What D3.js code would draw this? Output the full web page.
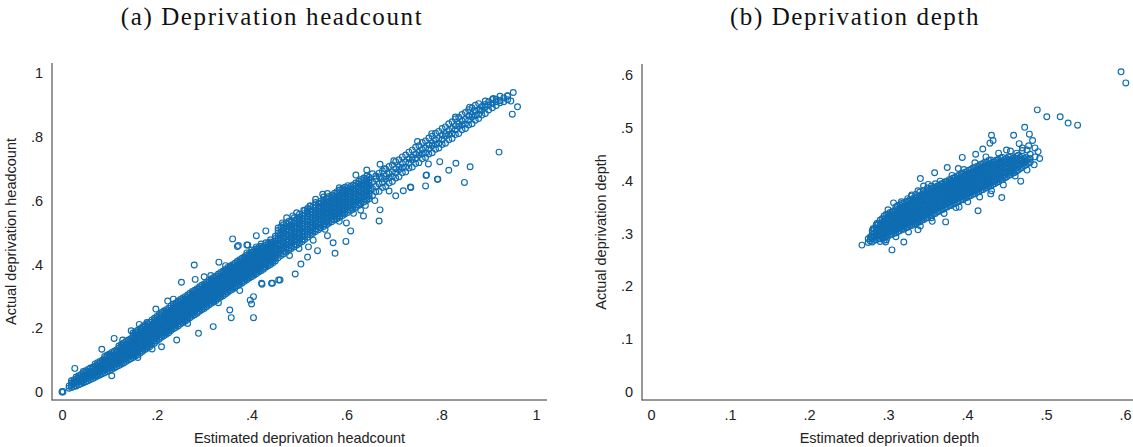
<!DOCTYPE html>
<html>
<head>
<meta charset="utf-8">
<script src="https://cdn.jsdelivr.net/npm/d3@7"></script>
<style>
    body { margin: 0; background: #fff; }
    svg { display: block; }
</style>
</head>
<body>
<div id="chart"></div>
<script>
// Panel (a): columns of points, in thousandths: [estimated, actual, actual, ...]
var headCols = [
    [15, 12, 19], [20, 14, 22, 28, 35], [25, 17, 24, 31, 38], [30, 19, 27, 34, 41, 47],
    [35, 23, 31, 37, 44, 51], [40, 26, 33, 41, 48, 55], [45, 29, 37, 44, 52, 58, 64],
    [50, 32, 40, 46, 53, 61, 67], [55, 35, 43, 50, 57, 64, 71], [60, 39, 46, 54, 60, 67, 75],
    [65, 42, 50, 57, 64, 72, 78], [70, 46, 53, 60, 68, 74, 81, 88], [75, 50, 56, 64, 71, 79, 85, 92],
    [80, 53, 61, 68, 75, 82, 90, 96], [85, 57, 64, 72, 79, 86, 93, 100], [90, 60, 68, 75, 82, 90, 97, 104, 111],
    [95, 64, 71, 79, 86, 93, 100, 108, 115], [100, 67, 75, 82, 89, 97, 105, 112, 119],
    [105, 71, 78, 86, 94, 101, 109, 116, 124], [110, 75, 83, 90, 98, 106, 113, 121, 128],
    [115, 79, 87, 94, 102, 109, 117, 125, 132], [120, 83, 90, 98, 106, 114, 121, 129, 137, 144],
    [125, 87, 95, 103, 110, 118, 126, 133, 141, 149], [130, 91, 99, 107, 115, 122, 130, 138, 146, 154],
    [135, 96, 104, 111, 119, 127, 135, 143, 150, 158], [140, 100, 108, 116, 124, 131, 139, 147, 155, 163],
    [145, 104, 112, 120, 128, 136, 143, 151, 159, 167],
    [150, 108, 115, 122, 129, 136, 143, 150, 157, 164, 171, 178, 185],
    [155, 113, 120, 127, 134, 141, 148, 155, 162, 169, 176, 183, 189],
    [160, 117, 124, 131, 138, 145, 152, 159, 166, 173, 180, 187, 194],
    [165, 122, 129, 136, 143, 150, 157, 164, 171, 178, 185, 192, 198],
    [170, 128, 135, 142, 149, 156, 163, 170, 177, 184, 191, 198, 205],
    [175, 133, 140, 147, 154, 161, 168, 175, 182, 189, 196, 203, 209],
    [180, 137, 144, 151, 158, 165, 172, 179, 186, 193, 200, 207, 214],
    [185, 142, 149, 156, 163, 170, 177, 184, 191, 198, 205, 212, 219],
    [190, 149, 156, 163, 170, 177, 184, 191, 198, 205, 212, 219, 226],
    [195, 153, 161, 168, 175, 182, 189, 196, 203, 210, 217, 224, 231],
    [200, 160, 167, 174, 181, 188, 195, 202, 209, 216, 223, 230, 237],
    [205, 165, 172, 179, 186, 193, 200, 207, 214, 221, 228, 235, 243],
    [210, 172, 179, 186, 193, 200, 207, 214, 221, 228, 235, 242, 249],
    [215, 176, 184, 191, 198, 205, 212, 219, 226, 233, 240, 247, 254],
    [220, 181, 188, 195, 202, 209, 216, 223, 230, 237, 244, 251, 258],
    [225, 186, 193, 200, 207, 214, 221, 228, 235, 242, 249, 256, 263],
    [230, 193, 200, 207, 214, 221, 228, 235, 242, 249, 256, 263, 270],
    [235, 198, 205, 212, 219, 226, 233, 240, 247, 254, 261, 268, 275],
    [240, 202, 209, 216, 223, 230, 237, 244, 251, 258, 265, 272, 279],
    [245, 207, 214, 221, 228, 235, 242, 249, 256, 263, 270, 277, 285],
    [250, 213, 220, 227, 234, 241, 248, 255, 262, 269, 276, 283, 290],
    [255, 218, 225, 232, 239, 246, 253, 260, 267, 274, 281, 288, 295],
    [260, 222, 229, 236, 243, 250, 257, 264, 271, 278, 285, 292, 299],
    [265, 227, 234, 241, 248, 255, 262, 269, 276, 283, 290, 297, 304],
    [270, 233, 240, 247, 254, 261, 268, 275, 282, 289, 296, 303, 310],
    [275, 238, 245, 252, 259, 266, 273, 280, 287, 294, 301, 308, 315],
    [280, 242, 249, 256, 263, 270, 277, 284, 291, 298, 305, 312, 319],
    [285, 247, 254, 261, 268, 275, 282, 289, 296, 303, 310, 317, 324],
    [290, 253, 260, 267, 274, 281, 288, 295, 302, 309, 316, 323, 330],
    [295, 258, 265, 272, 279, 286, 293, 300, 307, 314, 321, 328, 335],
    [300, 262, 269, 276, 283, 290, 297, 304, 311, 318, 325, 332, 339],
    [305, 267, 274, 281, 288, 295, 302, 309, 316, 323, 330, 337, 344],
    [310, 273, 280, 287, 294, 301, 308, 315, 322, 329, 336, 343, 350],
    [315, 278, 285, 292, 299, 306, 313, 320, 327, 334, 341, 348, 355],
    [320, 282, 289, 296, 303, 310, 317, 324, 331, 338, 345, 352, 359],
    [325, 287, 294, 301, 308, 315, 322, 329, 336, 343, 350, 357, 364],
    [330, 293, 300, 307, 314, 321, 328, 335, 342, 349, 356, 363, 370],
    [335, 298, 305, 312, 319, 326, 333, 340, 347, 354, 361, 368, 375],
    [340, 302, 309, 316, 323, 330, 337, 344, 351, 358, 365, 372, 379],
    [345, 307, 314, 321, 328, 335, 342, 349, 356, 363, 370, 377, 384],
    [350, 313, 320, 327, 334, 341, 348, 355, 362, 369, 376, 383, 390],
    [355, 318, 325, 332, 339, 346, 353, 360, 367, 374, 381, 388, 395],
    [360, 322, 329, 336, 343, 350, 357, 364, 371, 378, 385, 392, 399],
    [365, 327, 334, 341, 348, 355, 362, 369, 376, 383, 390, 397, 404],
    [370, 333, 340, 347, 354, 361, 368, 375, 382, 389, 396, 403, 410],
    [375, 338, 345, 352, 359, 366, 373, 380, 387, 394, 401, 408, 415],
    [380, 342, 349, 356, 363, 370, 377, 384, 391, 398, 405, 412, 419],
    [385, 347, 354, 361, 368, 375, 382, 389, 396, 403, 410, 417, 424],
    [390, 352, 359, 366, 373, 380, 387, 394, 401, 408, 415, 422, 429, 436],
    [395, 357, 364, 371, 378, 385, 392, 399, 406, 413, 420, 427, 434],
    [400, 361, 368, 375, 382, 389, 396, 403, 410, 417, 424, 431, 438, 445],
    [405, 366, 373, 380, 387, 394, 401, 408, 415, 422, 429, 436, 443],
    [410, 371, 378, 385, 392, 399, 406, 413, 420, 427, 434, 441, 448, 455],
    [415, 376, 383, 390, 397, 404, 411, 418, 425, 432, 439, 446, 453],
    [420, 380, 387, 394, 401, 408, 415, 422, 429, 436, 443, 450, 457, 464],
    [425, 385, 392, 399, 406, 413, 420, 427, 434, 441, 448, 455],
    [430, 391, 398, 405, 412, 419, 426, 433, 440, 447, 454, 461, 468],
    [435, 396, 403, 410, 417, 424, 431, 438, 445, 452, 459, 466],
    [440, 400, 407, 414, 421, 428, 435, 442, 449, 456, 463, 470, 477],
    [445, 405, 412, 419, 426, 433, 440, 447, 454, 461, 468],
    [450, 411, 418, 425, 432, 439, 446, 453, 460, 467, 474, 481, 488],
    [456, 421, 432, 440, 447, 458, 463, 474, 481, 489, 498, 506, 514],
    [462, 428, 437, 446, 451, 460, 469, 477, 483, 494, 500, 509, 517],
    [467, 433, 441, 450, 459, 466, 472, 482, 490, 497, 505, 513, 524],
    [473, 438, 448, 455, 462, 472, 480, 487, 495, 503, 511, 519, 530],
    [479, 445, 452, 461, 470, 478, 486, 493, 501, 508, 518, 527, 535],
    [484, 450, 458, 468, 475, 482, 491, 500, 507, 514, 523, 533],
    [490, 455, 463, 472, 481, 489, 496, 503, 512, 520, 528, 538, 546],
    [496, 461, 470, 478, 486, 494, 501, 510, 518, 527, 535, 543],
    [501, 466, 475, 483, 491, 500, 507, 515, 523, 531, 540, 548, 557],
    [507, 472, 480, 489, 497, 504, 513, 521, 528, 537, 545, 553],
    [512, 478, 487, 494, 502, 511, 519, 526, 535, 543, 551, 560, 569],
    [518, 485, 494, 502, 511, 518, 526, 535, 542, 550, 559, 567, 575],
    [524, 492, 500, 508, 517, 525, 533, 541, 549, 556, 565, 574, 583],
    [529, 497, 505, 514, 523, 531, 538, 546, 555, 563, 571, 580],
    [535, 503, 511, 520, 528, 536, 544, 553, 560, 569, 577, 586, 594],
    [541, 509, 518, 527, 534, 542, 551, 559, 566, 575, 583, 592],
    [546, 514, 523, 531, 540, 548, 556, 563, 572, 580, 589, 598],
    [552, 519, 527, 535, 544, 553, 560, 568, 577, 585, 593, 602, 611],
    [558, 524, 533, 541, 549, 558, 566, 574, 581, 590, 599, 607],
    [563, 529, 537, 546, 554, 562, 570, 579, 587, 595, 604, 613],
    [569, 534, 542, 551, 560, 567, 575, 584, 592, 600, 609, 617],
    [575, 539, 548, 556, 564, 573, 581, 589, 597, 606, 614, 623],
    [580, 543, 552, 560, 569, 577, 585, 594, 602, 610, 619, 628],
    [586, 548, 557, 565, 573, 582, 590, 598, 607, 615, 624, 633],
    [592, 553, 561, 570, 578, 587, 595, 603, 612, 620, 629, 637],
    [597, 558, 566, 575, 583, 591, 600, 608, 616, 625, 633, 642],
    [603, 563, 571, 580, 588, 596, 604, 612, 621, 629, 638, 647],
    [609, 569, 578, 586, 594, 602, 611, 619, 627, 636, 644],
    [614, 573, 582, 590, 598, 607, 615, 623, 632, 640, 649],
    [620, 579, 587, 596, 604, 613, 621, 629, 638, 646, 655],
    [626, 585, 593, 601, 610, 618, 627, 635, 643, 652, 661],
    [631, 590, 599, 607, 615, 624, 632, 640, 649, 657, 666],
    [637, 596, 604, 613, 621, 629, 637, 646, 654, 663, 671],
    [643, 601, 610, 618, 626, 635, 643, 651, 660, 668, 677],
    [648, 606, 614, 622, 631, 639, 648, 656, 664, 673],
    [655, 616, 637, 659, 684], [662, 628, 644, 668, 677], [669, 629, 652, 674, 686],
    [676, 641, 657, 670, 693], [683, 644, 667, 676, 698], [690, 655, 672, 685, 707],
    [697, 660, 676, 690, 712], [704, 671, 687, 700, 722], [711, 675, 697, 706, 728],
    [718, 687, 703, 716, 737], [725, 690, 705, 721, 743], [732, 702, 718, 731, 752],
    [739, 705, 727, 736, 758], [746, 716, 732, 745, 767], [753, 719, 742, 751, 772],
    [760, 731, 747, 760, 782], [767, 735, 750, 765, 787], [774, 746, 762, 775, 796],
    [781, 750, 772, 780, 802], [788, 761, 777, 790, 811], [795, 765, 780, 795, 817],
    [802, 776, 792, 805, 826], [809, 780, 802, 810, 831], [816, 791, 807, 820, 841],
    [823, 795, 810, 826, 847], [830, 807, 822, 835, 856], [837, 810, 832, 841, 861],
    [844, 822, 837, 850, 870], [851, 826, 840, 855, 876], [858, 837, 852, 865, 885],
    [865, 841, 862, 870, 890], [872, 852, 867, 880, 899], [879, 857, 871, 885, 904],
    [886, 868, 883, 895], [893, 873, 893, 901, 912], [900, 884, 899, 910],
    [908, 891, 904, 917], [916, 898, 910, 918], [924, 907, 914, 927],
    [932, 910, 922], [940, 916, 928]
];

// Panel (a): scattered points off the main band [estimated, actual]
var headOut = [
    [0, 0], [0.001, 0.002], [0.002, 0], [0.027, 0.074], [0.042, 0.032], [0.105, 0.051],
    [0.084, 0.134], [0.11, 0.168], [0.146, 0.192], [0.179, 0.218], [0.198, 0.26],
    [0.223, 0.285], [0.252, 0.344], [0.279, 0.398], [0.331, 0.407], [0.36, 0.48],
    [0.372, 0.459], [0.39, 0.461], [0.314, 0.365], [0.281, 0.353], [0.242, 0.163],
    [0.21, 0.142], [0.288, 0.184], [0.319, 0.205], [0.357, 0.233], [0.354, 0.257],
    [0.404, 0.233], [0.40, 0.276], [0.404, 0.299], [0.397, 0.288], [0.421, 0.341],
    [0.442, 0.341], [0.457, 0.351], [0.37, 0.456], [0.392, 0.461], [0.422, 0.338],
    [0.444, 0.341], [0.46, 0.351], [0.492, 0.37], [0.504, 0.401], [0.518, 0.423],
    [0.539, 0.443], [0.576, 0.435], [0.599, 0.472], [0.572, 0.468], [0.609, 0.505],
    [0.636, 0.552], [0.669, 0.536], [0.671, 0.571], [0.72, 0.631], [0.736, 0.641],
    [0.767, 0.646], [0.792, 0.667], [0.769, 0.68], [0.704, 0.615], [0.474, 0.546],
    [0.495, 0.562], [0.523, 0.583], [0.643, 0.696], [0.671, 0.714], [0.849, 0.657],
    [0.861, 0.706], [0.831, 0.717], [0.816, 0.695], [0.793, 0.667], [0.735, 0.643],
    [0.768, 0.679], [0.797, 0.722], [0.773, 0.715], [0.922, 0.752], [0.952, 0.939],
    [0.94, 0.929], [0.961, 0.894], [0.95, 0.871], [0.947, 0.912], [0.91, 0.92],
    [0.882, 0.884], [0.62, 0.68], [0.585, 0.64], [0.55, 0.62], [0.41, 0.49],
    [0.43, 0.505], [0.6, 0.53], [0.63, 0.57], [0.56, 0.49], [0.52, 0.455],
    [0.128, 0.163], [0.163, 0.212], [0.235, 0.291], [0.3, 0.361], [0.345, 0.396],
    [0.16, 0.108], [0.19, 0.135], [0.265, 0.215], [0.33, 0.28], [0.375, 0.318],
    [0.465, 0.53], [0.487, 0.552], [0.51, 0.57], [0.535, 0.604], [0.56, 0.622],
    [0.48, 0.428], [0.5, 0.45], [0.53, 0.476], [0.555, 0.51], [0.585, 0.535],
    [0.615, 0.56], [0.64, 0.585], [0.66, 0.6], [0.69, 0.63], [0.68, 0.7],
    [0.7, 0.725], [0.75, 0.785], [0.78, 0.81], [0.83, 0.862], [0.86, 0.893]
];

// Panel (b): columns of points, in thousandths: [estimated, actual, actual, ...]
var depthCols = [
    [275, 283, 290], [277.5, 286, 293],
    [280, 284, 291, 298, 305], [282.5, 287, 294, 301, 308],
    [285, 288, 295, 302, 309, 316], [287.5, 290, 297, 304, 311, 318],
    [290, 290, 297, 304, 311, 318, 325], [292.5, 293, 300, 307, 314, 321, 328],
    [295, 292, 299, 306, 313, 320, 327, 333], [297.5, 295, 302, 309, 316, 323, 330, 336],
    [300, 295, 302, 309, 316, 323, 330, 337], [302.5, 298, 305, 312, 319, 326, 333, 340],
    [305, 298, 305, 312, 319, 326, 333, 340], [307.5, 301, 308, 315, 322, 329, 336, 343],
    [310, 301, 308, 315, 322, 329, 336, 343, 350], [312.5, 304, 311, 318, 325, 332, 339, 346],
    [315, 305, 312, 319, 326, 333, 340, 347, 354], [317.5, 308, 315, 322, 329, 336, 343, 350, 357],
    [320, 308, 315, 322, 329, 336, 343, 350, 357], [322.5, 311, 318, 325, 332, 339, 346, 353, 360],
    [325, 312, 319, 326, 333, 340, 347, 354, 361], [327.5, 315, 322, 329, 336, 343, 350, 357, 364],
    [330, 315, 322, 329, 336, 343, 350, 357, 364, 371], [332.5, 318, 325, 332, 339, 346, 353, 360, 367],
    [335, 318, 325, 332, 339, 346, 353, 360, 367, 374], [337.5, 321, 328, 335, 342, 349, 356, 363, 370],
    [340, 322, 329, 336, 343, 350, 357, 364, 371, 378], [342.5, 325, 332, 339, 346, 353, 360, 367, 374],
    [345, 326, 333, 340, 347, 354, 361, 368, 375, 382], [347.5, 329, 336, 343, 350, 357, 364, 371, 378],
    [350, 330, 337, 344, 351, 358, 365, 372, 379, 386], [352.5, 333, 340, 347, 354, 361, 368, 375, 382],
    [355, 334, 341, 348, 355, 362, 369, 376, 383, 390], [357.5, 337, 344, 351, 358, 365, 372, 379, 386],
    [360, 338, 345, 352, 359, 366, 373, 380, 387, 394], [362.5, 341, 348, 355, 362, 369, 376, 383, 390],
    [365, 342, 349, 356, 363, 370, 377, 384, 391], [367.5, 345, 352, 359, 366, 373, 380, 387, 394],
    [370, 346, 353, 360, 367, 374, 381, 388, 395], [372.5, 349, 356, 363, 370, 377, 384, 391, 398],
    [375, 350, 357, 364, 371, 378, 385, 392, 399], [377.5, 353, 360, 367, 374, 381, 388, 395, 402],
    [380, 353, 360, 367, 374, 381, 388, 395, 402], [382.5, 356, 363, 370, 377, 384, 391, 398, 405],
    [385, 357, 364, 371, 378, 385, 392, 399, 406], [387.5, 360, 367, 374, 381, 388, 395, 402, 409],
    [390, 361, 368, 375, 382, 389, 396, 403, 410], [392.5, 364, 371, 378, 385, 392, 399, 406, 413],
    [395, 364, 371, 378, 385, 392, 399, 406, 413], [397.5, 367, 374, 381, 388, 395, 402, 409, 416],
    [400, 368, 375, 382, 389, 396, 403, 410, 417], [402.5, 371, 378, 385, 392, 399, 406, 413, 420],
    [405, 372, 379, 386, 393, 400, 407, 414, 421], [407.5, 375, 382, 389, 396, 403, 410, 417, 424],
    [410, 375, 382, 389, 396, 403, 410, 417, 424], [412.5, 378, 385, 392, 399, 406, 413, 420, 427],
    [415, 379, 386, 393, 400, 407, 414, 421, 428], [417.5, 382, 389, 396, 403, 410, 417, 424, 431],
    [420, 383, 390, 397, 404, 411, 418, 425, 432], [422.5, 386, 393, 400, 407, 414, 421, 428, 435],
    [425, 386, 393, 400, 407, 414, 421, 428, 435], [427.5, 389, 396, 403, 410, 417, 424, 431, 438],
    [430, 390, 397, 404, 411, 418, 425, 432, 439], [432.5, 393, 400, 407, 414, 421, 428, 435],
    [435, 394, 401, 408, 415, 422, 429, 436], [437.5, 397, 404, 411, 418, 425, 432, 439],
    [440, 398, 405, 412, 419, 426, 433, 440], [442.5, 401, 408, 415, 422, 429, 436, 443],
    [445, 402, 409, 416, 423, 430, 437, 444], [447.5, 405, 412, 419, 426, 433, 440],
    [450, 407, 414, 421, 428, 435, 442], [452.5, 410, 417, 424, 431, 438, 445],
    [455, 411, 418, 425, 432, 439, 446], [457.5, 414, 421, 428, 435, 442],
    [460, 415, 422, 429, 436, 443], [462.5, 418, 425, 432, 439, 446],
    [465, 420, 427, 434, 441, 448], [467.5, 423, 430, 437, 444],
    [470, 425, 432, 439, 446], [472.5, 428, 435, 442],
    [475, 430, 437, 444], [477.5, 433, 440], [480, 435, 442]
];

// Panel (b): scattered points off the main cloud [estimated, actual]
var depthOut = [
    [0.267, 0.278], [0.305, 0.269], [0.279, 0.294], [0.281, 0.309], [0.286, 0.319],
    [0.297, 0.284], [0.32, 0.284], [0.338, 0.307], [0.373, 0.322], [0.414, 0.343],
    [0.444, 0.368], [0.468, 0.399], [0.307, 0.358], [0.317, 0.36], [0.341, 0.404],
    [0.359, 0.415], [0.394, 0.444], [0.411, 0.45], [0.431, 0.486], [0.433, 0.476],
    [0.429, 0.471], [0.459, 0.486], [0.473, 0.501], [0.479, 0.488], [0.483, 0.476],
    [0.489, 0.534], [0.492, 0.442], [0.471, 0.433], [0.33, 0.373], [0.389, 0.423],
    [0.595, 0.606], [0.601, 0.585], [0.501, 0.521], [0.518, 0.521], [0.528, 0.509],
    [0.54, 0.505], [0.486, 0.462], [0.49, 0.455], [0.476, 0.458], [0.466, 0.47],
    [0.45, 0.458], [0.298, 0.288], [0.29, 0.285], [0.355, 0.33], [0.39, 0.35],
    [0.43, 0.375], [0.345, 0.39], [0.375, 0.425], [0.42, 0.46],
    [0.3, 0.345], [0.312, 0.352], [0.325, 0.366], [0.338, 0.381], [0.351, 0.393],
    [0.366, 0.399], [0.381, 0.41], [0.396, 0.421], [0.41, 0.434], [0.424, 0.445],
    [0.44, 0.452], [0.455, 0.456], [0.463, 0.452], [0.47, 0.457],
    [0.295, 0.287], [0.31, 0.294], [0.326, 0.303], [0.341, 0.314], [0.356, 0.323],
    [0.371, 0.338], [0.386, 0.349], [0.401, 0.36], [0.416, 0.369], [0.431, 0.381],
    [0.446, 0.392], [0.461, 0.409], [0.476, 0.42], [0.485, 0.43],
    [0.48, 0.45], [0.486, 0.445], [0.478, 0.466], [0.47, 0.462]
];

var headTicks = [0, 0.2, 0.4, 0.6, 0.8, 1];
var depthTicks = [0, 0.1, 0.2, 0.3, 0.4, 0.5, 0.6];

var blue = "#0f6db2";
var sans = "'Liberation Sans', Arial, sans-serif";

function flatten(cols, extra) {
    var pts = [];
    cols.forEach((c) => {
        c.slice(1).forEach((v) => pts.push([c[0] / 1000, v / 1000]));
    });
    return pts.concat(extra);
}

// Stata style labels: .2 instead of 0.2
function fmt(d) {
    return d3.format("~g")(d).replace(/^0\./, ".");
}

var svg = d3
    .select("#chart")
    .append("svg")
    .attr("width", 1133)
    .attr("height", 447);

function drawPanel(p) {
    var g = svg.append("g");

    var x = d3.scaleLinear().domain(p.xDomain).range([p.x0, p.x1]);
    var y = d3.scaleLinear().domain(p.yDomain).range([p.y0, p.y1]);

    g.append("line")
        .attr("x1", p.left).attr("x2", p.left)
        .attr("y1", p.top).attr("y2", p.bottom + 0.5)
        .attr("stroke", "#333").attr("stroke-width", 1);
    g.append("line")
        .attr("x1", p.left).attr("x2", p.right)
        .attr("y1", p.bottom).attr("y2", p.bottom)
        .attr("stroke", "#333").attr("stroke-width", 1);

    var yAxis = g
        .append("g")
        .attr("transform", "translate(" + p.left + ",0)")
        .call(d3.axisLeft(y).tickValues(p.ticks).tickSize(0).tickPadding(9).tickFormat(fmt));
    var xAxis = g
        .append("g")
        .attr("transform", "translate(0," + p.bottom + ")")
        .call(d3.axisBottom(x).tickValues(p.ticks).tickSize(0).tickPadding(10).tickFormat(fmt));
    [yAxis, xAxis].forEach((a) => {
        a.select(".domain").remove();
        a.attr("font-family", sans).attr("font-size", 14.5);
        a.selectAll("text").attr("fill", "#222");
    });

    g.selectAll("circle")
        .data(p.data)
        .join("circle")
        .attr("cx", (d) => x(d[0]))
        .attr("cy", (d) => y(d[1]))
        .attr("r", 2.9)
        .attr("fill", "none")
        .attr("stroke", blue)
        .attr("stroke-width", 1.15);

    g.append("text")
        .attr("x", (p.left + p.right) / 2)
        .attr("y", p.bottom + 43)
        .attr("text-anchor", "middle")
        .attr("font-family", sans)
        .attr("font-size", 14.5)
        .attr("fill", "#222")
        .text(p.xTitle);

    g.append("text")
        .attr("transform", "translate(" + (p.left - 41) + "," + (p.top + p.bottom) / 2 + ") rotate(-90)")
        .attr("dy", "0.35em")
        .attr("text-anchor", "middle")
        .attr("font-family", sans)
        .attr("font-size", 14.5)
        .attr("fill", "#222")
        .text(p.yTitle);

    g.append("text")
        .attr("x", p.titleX)
        .attr("y", 25)
        .attr("text-anchor", "middle")
        .attr("font-family", "'Liberation Serif', 'DejaVu Serif', serif")
        .attr("font-size", 25)
        .attr("letter-spacing", 1.6)
        .attr("fill", "#111")
        .text(p.title);
}

drawPanel({
    title: "(a) Deprivation headcount",
    titleX: 272,
    xTitle: "Estimated deprivation headcount",
    yTitle: "Actual deprivation headcount",
    data: flatten(headCols, headOut),
    ticks: headTicks,
    xDomain: [0, 1], yDomain: [0, 1],
    x0: 62, x1: 536, y0: 392, y1: 73,
    left: 52, right: 547, top: 63, bottom: 400,
});

drawPanel({
    title: "(b) Deprivation depth",
    titleX: 855,
    xTitle: "Estimated deprivation depth",
    yTitle: "Actual deprivation depth",
    data: flatten(depthCols, depthOut),
    ticks: depthTicks,
    xDomain: [0, 0.6], yDomain: [0, 0.6],
    x0: 651, x1: 1125, y0: 392, y1: 75,
    left: 642, right: 1137, top: 64, bottom: 400,
});
</script>
</body>
</html>
